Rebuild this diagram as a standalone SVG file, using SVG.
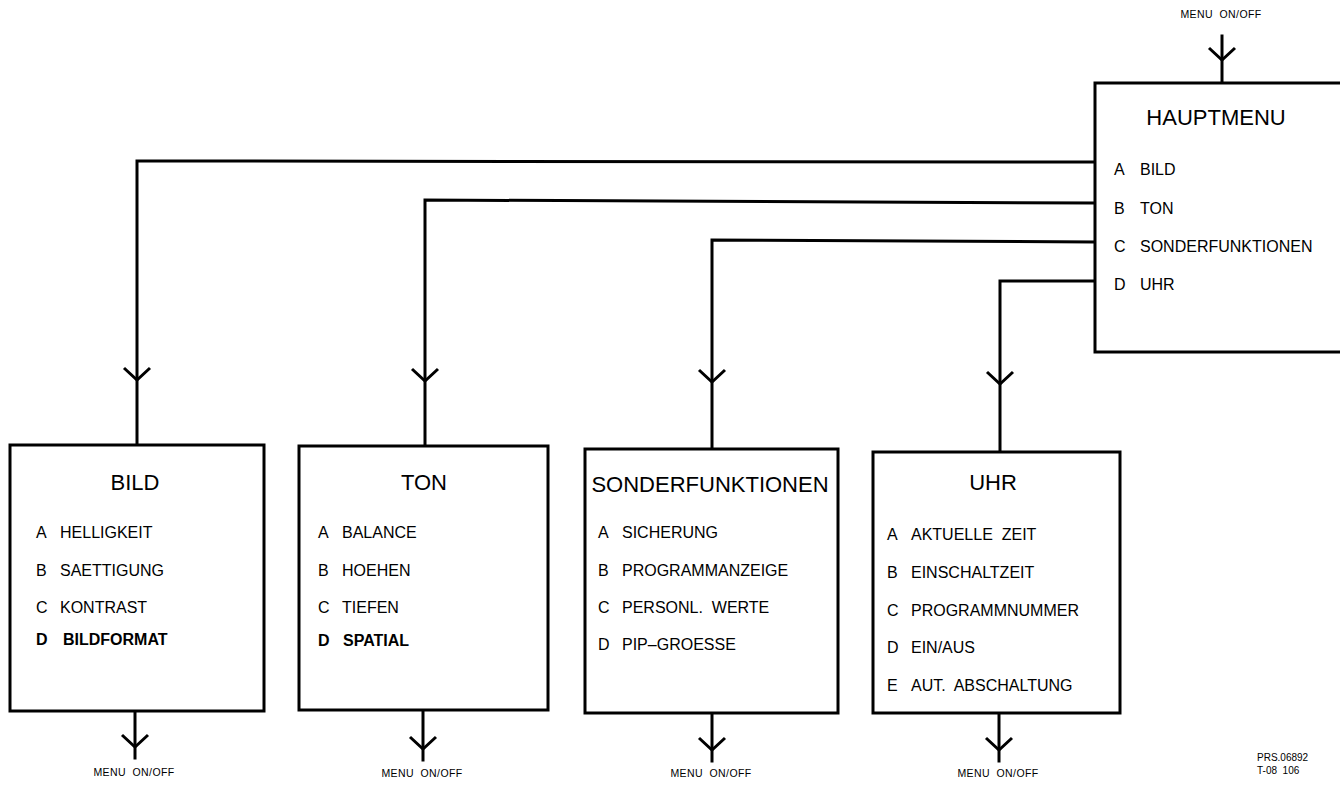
<svg xmlns="http://www.w3.org/2000/svg" width="1340" height="785" viewBox="0 0 1340 785">
  <style>
    .box { fill: #ffffff; stroke: #000000; stroke-width: 3; }
    .ln { fill: none; stroke: #000000; stroke-width: 3; stroke-linecap: square; }
    .arr { fill: none; stroke: #000000; stroke-width: 3; stroke-linejoin: miter; }
    text { font-family: "Liberation Sans", Arial, sans-serif; fill: #000000; }
    .title { font-size: 22px; text-anchor: middle; }
    .item { font-size: 16px; }
    .bold { font-weight: bold; }
    .small { font-size: 10.5px; text-anchor: middle; letter-spacing: 0.4px; }
    .ref { font-size: 10px; }
  </style>
  <defs>
    <path id="v" d="M -13 -12 L 0 0 L 13 -12" class="arr"/>
  </defs>
  <rect width="1340" height="785" fill="#ffffff"/>

  <g id="connectors">
    <!-- top input -->
    <line class="ln" x1="1222" y1="36" x2="1222" y2="83"/>
    <use href="#v" x="1222" y="60"/>
    <!-- HAUPTMENU to BILD -->
    <polyline class="ln" points="1095,162 137,161 137,445"/>
    <use href="#v" x="137" y="380"/>
    <!-- HAUPTMENU to TON -->
    <polyline class="ln" points="1095,203 425,200 425,446"/>
    <use href="#v" x="425" y="381"/>
    <!-- HAUPTMENU to SONDERFUNKTIONEN -->
    <polyline class="ln" points="1095,242 712,240 712,449"/>
    <use href="#v" x="712" y="382"/>
    <!-- HAUPTMENU to UHR -->
    <polyline class="ln" points="1095,281 1000,281 1000,452"/>
    <use href="#v" x="1000" y="384"/>
    <!-- bottom outputs -->
    <line class="ln" x1="135" y1="711" x2="135" y2="758"/>
    <use href="#v" x="135" y="747"/>
    <line class="ln" x1="423" y1="710" x2="423" y2="760"/>
    <use href="#v" x="423" y="749"/>
    <line class="ln" x1="712" y1="713" x2="712" y2="761"/>
    <use href="#v" x="712" y="750"/>
    <line class="ln" x1="999" y1="713" x2="999" y2="761"/>
    <use href="#v" x="999" y="750"/>
  </g>

  <g id="hauptmenu">
    <rect class="box" x="1095" y="83" width="260" height="269"/>
    <text class="title" x="1216" y="125">HAUPTMENU</text>
    <text class="item" y="175"><tspan x="1114">A</tspan><tspan x="1140">BILD</tspan></text>
    <text class="item" y="214"><tspan x="1114">B</tspan><tspan x="1140">TON</tspan></text>
    <text class="item" y="252"><tspan x="1114">C</tspan><tspan x="1140">SONDERFUNKTIONEN</tspan></text>
    <text class="item" y="290"><tspan x="1114">D</tspan><tspan x="1140">UHR</tspan></text>
  </g>

  <g id="bild">
    <rect class="box" x="10" y="445" width="254" height="266"/>
    <text class="title" x="135" y="490">BILD</text>
    <text class="item" y="538"><tspan x="36">A</tspan><tspan x="60">HELLIGKEIT</tspan></text>
    <text class="item" y="576"><tspan x="36">B</tspan><tspan x="60">SAETTIGUNG</tspan></text>
    <text class="item" y="613"><tspan x="36">C</tspan><tspan x="60">KONTRAST</tspan></text>
    <text class="item bold" y="645"><tspan x="36">D</tspan><tspan x="63">BILDFORMAT</tspan></text>
  </g>

  <g id="ton">
    <rect class="box" x="299" y="446" width="249" height="264"/>
    <text class="title" x="424" y="490">TON</text>
    <text class="item" y="538"><tspan x="318">A</tspan><tspan x="342">BALANCE</tspan></text>
    <text class="item" y="576"><tspan x="318">B</tspan><tspan x="342">HOEHEN</tspan></text>
    <text class="item" y="613"><tspan x="318">C</tspan><tspan x="342">TIEFEN</tspan></text>
    <text class="item bold" y="646"><tspan x="318">D</tspan><tspan x="343">SPATIAL</tspan></text>
  </g>

  <g id="sonderfunktionen">
    <rect class="box" x="585" y="449" width="253" height="264"/>
    <text class="title" x="710" y="492">SONDERFUNKTIONEN</text>
    <text class="item" y="538"><tspan x="598">A</tspan><tspan x="622">SICHERUNG</tspan></text>
    <text class="item" y="576"><tspan x="598">B</tspan><tspan x="622">PROGRAMMANZEIGE</tspan></text>
    <text class="item" y="613" xml:space="preserve"><tspan x="598">C</tspan><tspan x="622">PERSONL.  WERTE</tspan></text>
    <text class="item" y="650"><tspan x="598">D</tspan><tspan x="622">PIP–GROESSE</tspan></text>
  </g>

  <g id="uhr">
    <rect class="box" x="873" y="452" width="247" height="261"/>
    <text class="title" x="993" y="490">UHR</text>
    <text class="item" y="540" xml:space="preserve"><tspan x="887">A</tspan><tspan x="911">AKTUELLE  ZEIT</tspan></text>
    <text class="item" y="578"><tspan x="887">B</tspan><tspan x="911">EINSCHALTZEIT</tspan></text>
    <text class="item" y="616"><tspan x="887">C</tspan><tspan x="911">PROGRAMMNUMMER</tspan></text>
    <text class="item" y="653"><tspan x="887">D</tspan><tspan x="911">EIN/AUS</tspan></text>
    <text class="item" y="691" xml:space="preserve"><tspan x="887">E</tspan><tspan x="911">AUT.  ABSCHALTUNG</tspan></text>
  </g>

  <g id="labels">
    <text class="small" x="1221" y="18" xml:space="preserve">MENU  ON/OFF</text>
    <text class="small" x="134" y="776" xml:space="preserve">MENU  ON/OFF</text>
    <text class="small" x="422" y="777" xml:space="preserve">MENU  ON/OFF</text>
    <text class="small" x="711" y="777" xml:space="preserve">MENU  ON/OFF</text>
    <text class="small" x="998" y="777" xml:space="preserve">MENU  ON/OFF</text>
    <text class="ref" x="1257" y="761">PRS.06892</text>
    <text class="ref" x="1257" y="774" xml:space="preserve">T-08  106</text>
  </g>
</svg>
